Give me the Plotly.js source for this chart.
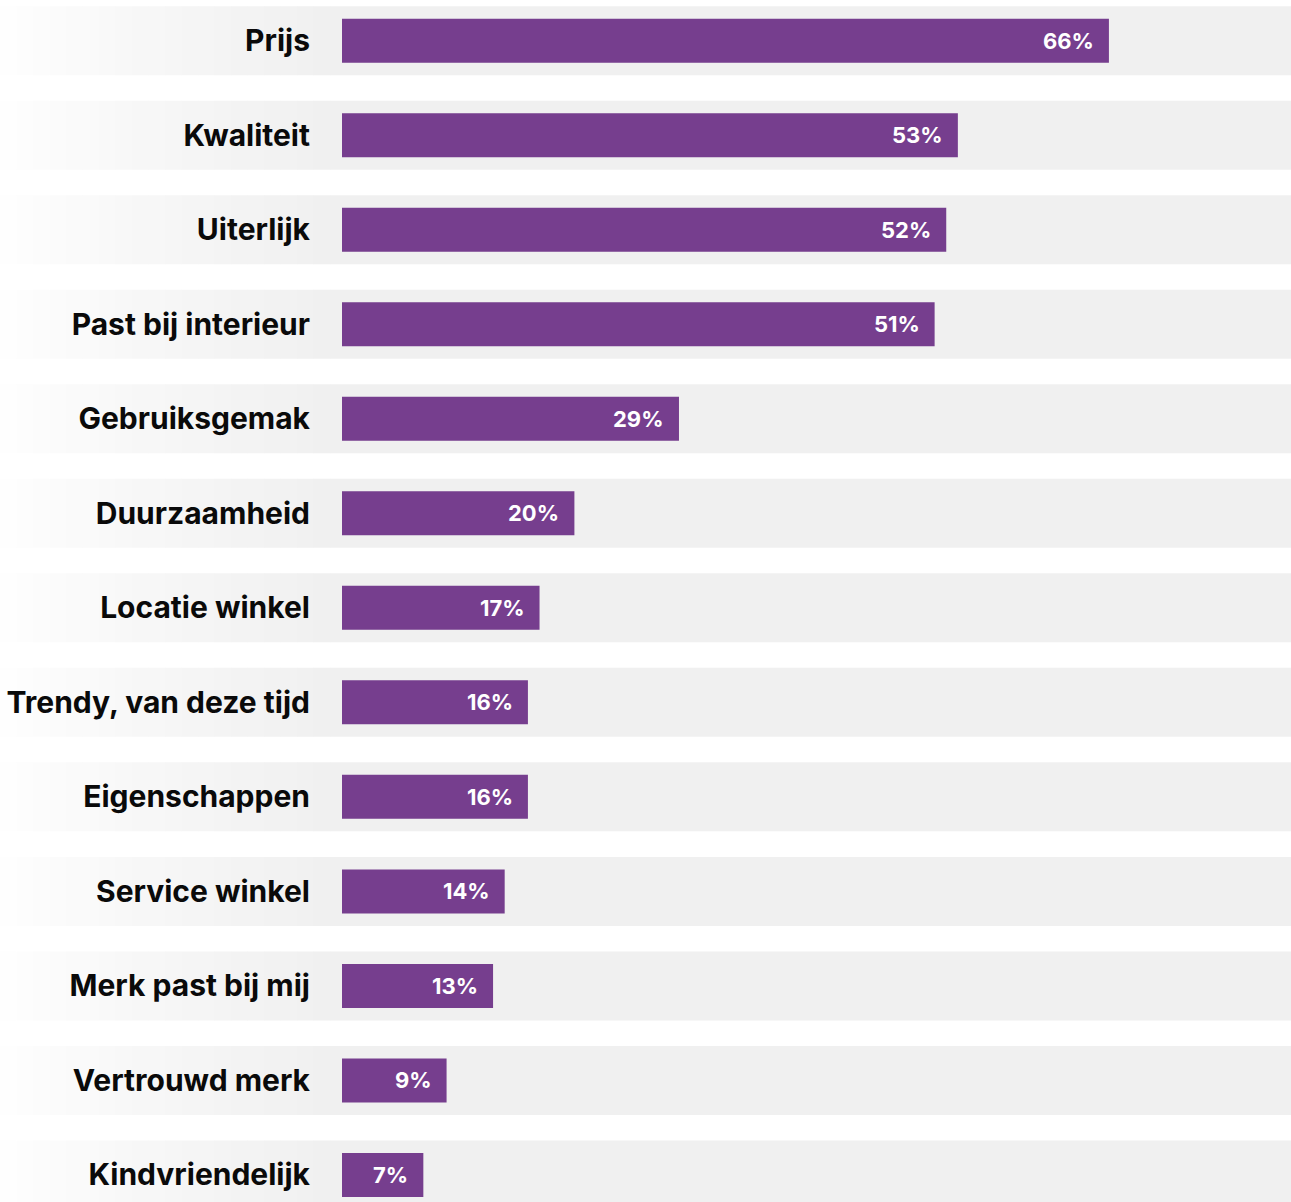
<!DOCTYPE html>
<html>
<head>
<meta charset="utf-8">
<script src="https://cdn.plot.ly/plotly-3.0.1.min.js"></script>
<style>html,body{margin:0;padding:0;background:#fff;}#chart{width:1291px;height:1202px;}</style>
</head>
<body>
<div id="chart"></div>
<script>
const categories = ["Prijs","Kwaliteit","Uiterlijk","Past bij interieur","Gebruiksgemak","Duurzaamheid","Locatie winkel","Trendy, van deze tijd","Eigenschappen","Service winkel","Merk past bij mij","Vertrouwd merk","Kindvriendelijk"];
const values = [66,53,52,51,29,20,17,16,16,14,13,9,7];
const valueLabels = values.map(v => v + "%");

const W = 1291, H = 1202, L = 342;
const pxPerUnit = 11.62;
const xMax = (W - L) / pxPerUnit;
const rowPx = 94.52, firstCenter = 40.7;
const yTop = -firstCenter / rowPx;
const yBottom = (categories.length - 1) + (H - (firstCenter + (categories.length - 1) * rowPx)) / rowPx;
const bandHalf = 0.365;
const barFrac = 0.4655;

const shapes = [];
const leftPaper = -L / (W - L);
const gradEndPaper = (330 - L) / (W - L);
const steps = 20;
categories.forEach((c, i) => {
  shapes.push({type:'rect', layer:'below', xref:'paper', yref:'y', x0:gradEndPaper, x1:1, y0:i-bandHalf, y1:i+bandHalf, fillcolor:'#f0f0f0', line:{width:0}});
  for (let s = 0; s < steps; s++) {
    const t = (s + 0.5) / steps;
    const g = Math.round(255 - (255 - 240) * Math.pow(t, 0.8));
    shapes.push({type:'rect', layer:'below', xref:'paper', yref:'y',
      x0: leftPaper + (gradEndPaper - leftPaper) * s / steps,
      x1: leftPaper + (gradEndPaper - leftPaper) * (s + 1) / steps + 0.0005,
      y0:i-bandHalf, y1:i+bandHalf, fillcolor:`rgb(${g},${g},${g})`, line:{width:0}});
  }
});

const annotations = values.map((v, i) => ({
  xref:'x', yref:'y', x:v, y:categories[i], xanchor:'right', yanchor:'middle', xshift:-13,
  text:valueLabels[i], showarrow:false,
  font:{family:'Inter, sans-serif', size:22, color:'#ffffff', weight:700}
}));

const trace = {
  type:'bar', orientation:'h', x:values, y:categories,
  marker:{color:'#763E8E', line:{width:0}},
  hoverinfo:'none'
};

const layout = {
  width:W, height:H,
  margin:{l:L, r:0, t:0, b:0, pad:0},
  paper_bgcolor:'#ffffff', plot_bgcolor:'rgba(0,0,0,0)',
  showlegend:false,
  bargap: 1 - barFrac,
  xaxis:{range:[0, xMax], visible:false, fixedrange:true},
  yaxis:{type:'category', categoryarray:categories, range:[yBottom, yTop],
    showgrid:false, zeroline:false, showline:false, ticks:'',
    ticklabelstandoff:31,
    tickfont:{family:'Inter, sans-serif', size:30, color:'#0a0a0a', weight:700}},
  shapes:shapes,
  annotations:annotations,
  font:{family:'Inter, sans-serif'}
};

Plotly.newPlot('chart', [trace], layout, {displayModeBar:false, staticPlot:true});
</script>
</body>
</html>
